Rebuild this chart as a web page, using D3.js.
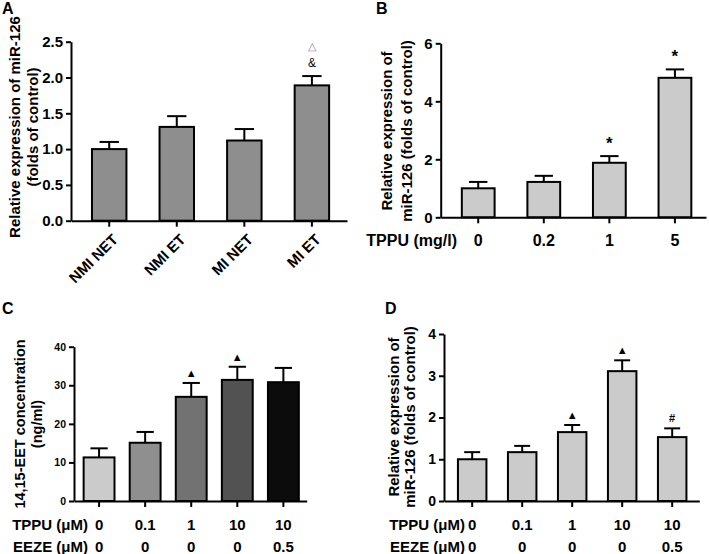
<!DOCTYPE html>
<html><head><meta charset="utf-8">
<script src="https://cdn.jsdelivr.net/npm/d3@7"></script>
<style>
body{margin:0;background:#fff}
svg text{font-family:"Liberation Sans",Arial,sans-serif;font-weight:bold;fill:#000}
</style>
</head><body>
<svg id="chart" width="709" height="554"></svg>
<script>
// ---------- DATA ----------
const aCategories = ["NMI NET", "NMI ET", "MI NET", "MI ET"];
const aMeans = [1.0, 1.31, 1.12, 1.89];
const aErrors = [0.10, 0.15, 0.16, 0.13];
const aMarks = ["", "", "", "&"];
const aMarks2 = ["", "", "", "\u25B3"];
const aYTicks = [0, 0.5, 1.0, 1.5, 2.0, 2.5];

const bTppu = ["0", "0.2", "1", "5"];
const bMeans = [1.0, 1.22, 1.88, 4.81];
const bErrors = [0.22, 0.21, 0.23, 0.29];
const bMarks = ["", "", "*", "*"];
const bYTicks = [0, 2, 4, 6];

const cTppu = ["0", "0.1", "1", "10", "10"];
const cEeze = ["0", "0", "0", "0", "0.5"];
const cMeans = [11.3, 15.1, 27.0, 31.4, 30.8];
const cErrors = [2.35, 2.8, 3.6, 3.4, 3.7];
const cMarks = ["", "", "\u25B2", "\u25B2", ""];
const cYTicks = [0, 10, 20, 30, 40];

const dTppu = ["0", "0.1", "1", "10", "10"];
const dEeze = ["0", "0", "0", "0", "0.5"];
const dMeans = [1.0, 1.17, 1.65, 3.11, 1.53];
const dErrors = [0.17, 0.15, 0.17, 0.26, 0.21];
const dMarks = ["", "", "\u25B2", "\u25B2", "#"];
const dYTicks = [0, 1, 2, 3, 4];

// ---------- DRAW ----------
const svg = d3.select("#chart");

function drawPanel(o) {
  const g = svg.append("g");
  const n = o.means.length;
  const x = d3.scaleBand().domain(d3.range(n)).range(o.xr)
    .paddingInner(o.pi).paddingOuter(o.po).align(o.al);
  const y = d3.scaleLinear().domain(o.yd).range(o.yr);
  const bw = x.bandwidth();
  const cap = bw * 0.56;

  // error bars (up only)
  g.selectAll("line.err").data(o.means).join("line")
    .attr("x1", (d, i) => x(i) + bw / 2).attr("x2", (d, i) => x(i) + bw / 2)
    .attr("y1", d => y(d)).attr("y2", (d, i) => y(d + o.errs[i]))
    .attr("stroke", "#000").attr("stroke-width", 2);
  g.selectAll("line.cap").data(o.means).join("line")
    .attr("x1", (d, i) => x(i) + bw / 2 - cap / 2).attr("x2", (d, i) => x(i) + bw / 2 + cap / 2)
    .attr("y1", (d, i) => y(d + o.errs[i])).attr("y2", (d, i) => y(d + o.errs[i]))
    .attr("stroke", "#000").attr("stroke-width", 2);

  // bars
  g.selectAll("rect.bar").data(o.means).join("rect")
    .attr("x", (d, i) => x(i)).attr("y", d => y(d))
    .attr("width", bw).attr("height", d => y(0) - y(d))
    .attr("fill", (d, i) => o.fills[i % o.fills.length])
    .attr("stroke", "#000").attr("stroke-width", 2);

  // y axis
  const ya = g.append("g").attr("transform", `translate(${o.xr[0]},0)`)
    .call(d3.axisLeft(y).tickValues(o.yticks).tickFormat(o.fmt)
      .tickSize(5).tickSizeOuter(0).tickPadding(3));
  ya.select(".domain").attr("stroke-width", 2);
  ya.selectAll(".tick line").attr("stroke-width", 2);
  ya.selectAll(".tick text").attr("font-size", o.tfs)
    .style("font-family", '"Liberation Sans",Arial,sans-serif').style("font-weight", "bold");

  // x axis
  const xa = g.append("g").attr("transform", `translate(0,${o.yr[0]})`)
    .call(d3.axisBottom(x).tickSize(6).tickSizeOuter(0).tickFormat(""));
  xa.select(".domain").attr("stroke-width", 2);
  xa.selectAll(".tick line").attr("stroke-width", 2);

  // y label (two lines)
  o.ylab.forEach((t, k) => {
    g.append("text").attr("transform", `translate(${o.ylx[k]},${o.ylc}) rotate(-90)`)
      .attr("text-anchor", "middle").attr("dy", "0.35em")
      .attr("font-size", o.ylfs).text(t);
  });

  // annotations
  (o.marks || []).forEach((ms) => {
    g.selectAll(null).data(o.means).join("text")
      .attr("x", (d, i) => x(i) + bw / 2)
      .attr("y", (d, i) => y(d + o.errs[i]) - ms.off)
      .attr("dy", "0.35em").attr("text-anchor", "middle")
      .attr("font-size", ms.fs)
      .style("fill", ms.color || "#000")
      .style("font-weight", ms.weight || "bold")
      .text((d, i) => ms.list[i]);
  });

  // panel letter
  g.append("text").attr("x", o.letter[1]).attr("y", o.letter[2])
    .attr("font-size", 16).text(o.letter[0]);

  return {g, x, y, bw};
}

// Panel A
const A = drawPanel({
  means: aMeans, errs: aErrors, fills: ["#8e8e8e"],
  xr: [71, 347], pi: 0.49, po: 0.2875, al: 0.54,
  yd: [0, 2.5], yr: [220.7, 41.7], yticks: aYTicks, fmt: d3.format(".1f"), tfs: 15,
  ylab: ["Relative expression of miR-126", "(folds of control)"], ylx: [15, 33], ylc: 127, ylfs: 15,
  marks: [{list: aMarks, off: 13, fs: 12, weight: "normal"},
          {list: aMarks2, off: 30, fs: 11, color: "#888", weight: "normal"}],
  letter: ["A", 2, 14]
});
A.g.selectAll(null).data(aCategories).join("text")
  .attr("transform", (d, i) => `translate(${A.x(i) + A.bw / 2 + 6},${A.y(0) + 16}) rotate(-45)`)
  .attr("text-anchor", "end").attr("dy", "0.35em").attr("font-size", 15).text(d => d);

// Panel B
const B = drawPanel({
  means: bMeans, errs: bErrors, fills: ["#cbcbcb"],
  xr: [440.7, 706], pi: 0.5, po: 0.273, al: 0.59,
  yd: [0, 6], yr: [217.3, 43.3], yticks: bYTicks, fmt: d3.format("d"), tfs: 15,
  ylab: ["Relative expression of", "miR-126 (folds of control)"], ylx: [387, 407], ylc: 131, ylfs: 15,
  marks: [{list: bMarks, off: 13, fs: 17}],
  letter: ["B", 376, 14]
});
B.g.selectAll(null).data(bTppu).join("text")
  .attr("x", (d, i) => B.x(i) + B.bw / 2).attr("y", 240).attr("dy", "0.35em")
  .attr("text-anchor", "middle").attr("font-size", 16).text(d => d);
B.g.append("text").attr("x", 457).attr("y", 240).attr("dy", "0.35em")
  .attr("text-anchor", "end").attr("font-size", 16).text("TPPU (mg/l)");

// Panel C
const C = drawPanel({
  means: cMeans, errs: cErrors, fills: ["#cbcbcb", "#8f8f8f", "#727272", "#525252", "#0c0c0c"],
  xr: [74, 306.7], pi: 0.33, po: 0.19, al: 0.55,
  yd: [0, 40], yr: [501, 346.7], yticks: cYTicks, fmt: d3.format("d"), tfs: 10.5,
  ylab: ["14,15-EET concentration", "(ng/ml)"], ylx: [20, 37], ylc: 424, ylfs: 14.5,
  marks: [{list: cMarks, off: 10, fs: 11}],
  letter: ["C", 2, 314]
});
[[cTppu, 525, "TPPU (\u03BCM)"], [cEeze, 546.7, "EEZE (\u03BCM)"]].forEach(([arr, yy, lab]) => {
  C.g.selectAll(null).data(arr).join("text")
    .attr("x", (d, i) => C.x(i) + C.bw / 2).attr("y", yy).attr("dy", "0.35em")
    .attr("text-anchor", "middle").attr("font-size", 15).text(d => d);
  C.g.append("text").attr("x", 88).attr("y", yy).attr("dy", "0.35em")
    .attr("text-anchor", "end").attr("font-size", 15).text(lab);
});

// Panel D
const D = drawPanel({
  means: dMeans, errs: dErrors, fills: ["#cbcbcb"],
  xr: [444, 699.3], pi: 0.43, po: 0.268, al: 0.52,
  yd: [0, 4], yr: [501, 334], yticks: dYTicks, fmt: d3.format("d"), tfs: 14,
  ylab: ["Relative expression of", "miR-126 (folds of control)"], ylx: [394, 410], ylc: 417, ylfs: 15,
  marks: [{list: dMarks, off: 10, fs: 11}],
  letter: ["D", 385, 314]
});
[[dTppu, 525, "TPPU (\u03BCM)"], [dEeze, 546.7, "EEZE (\u03BCM)"]].forEach(([arr, yy, lab]) => {
  D.g.selectAll(null).data(arr).join("text")
    .attr("x", (d, i) => D.x(i) + D.bw / 2).attr("y", yy).attr("dy", "0.35em")
    .attr("text-anchor", "middle").attr("font-size", 15).text(d => d);
  D.g.append("text").attr("x", 465).attr("y", yy).attr("dy", "0.35em")
    .attr("text-anchor", "end").attr("font-size", 15).text(lab);
});
</script>
</body></html>
